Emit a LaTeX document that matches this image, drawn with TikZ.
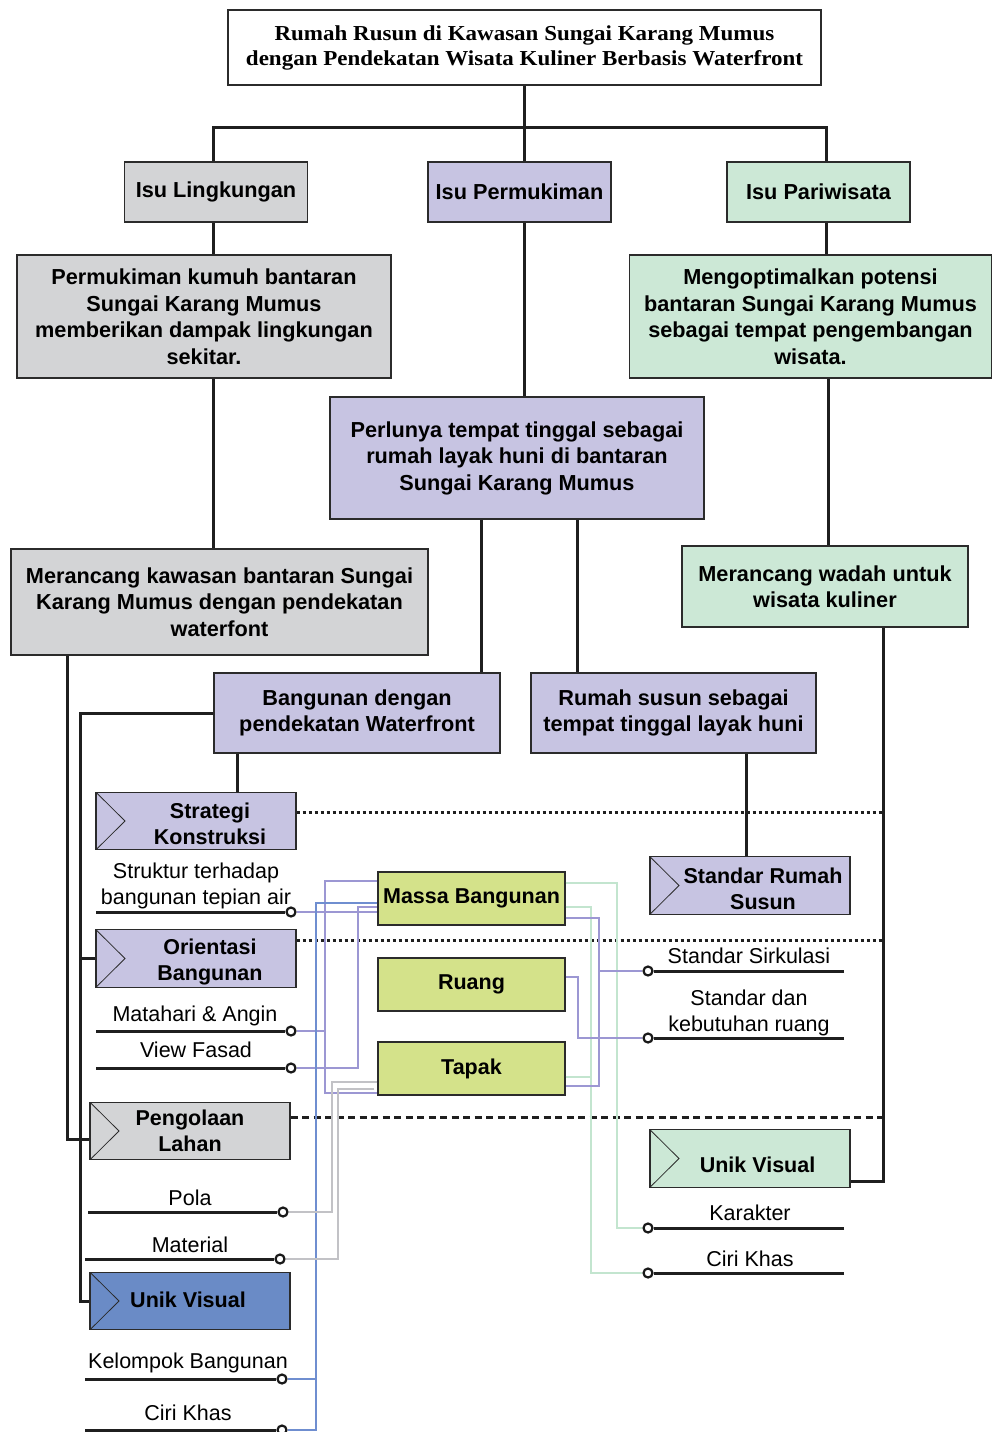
\documentclass[tikz,border=0pt]{standalone}
\usepackage{fontspec}
\setmainfont{Liberation Sans}
\newfontfamily\titlefont[FakeStretch=1.08]{Liberation Serif}
\usepackage{tikz}
\definecolor{grayfill}{HTML}{D3D4D6}
\definecolor{lavfill}{HTML}{C7C4E2}
\definecolor{mintfill}{HTML}{CCE8D6}
\definecolor{limefill}{HTML}{D4E28A}
\definecolor{bluefill}{HTML}{6A8BC6}
\definecolor{edge}{HTML}{2B2B2B}
\definecolor{lavwire}{HTML}{9C97D3}
\definecolor{bluewire}{HTML}{6F8ED0}
\definecolor{graywire}{HTML}{C2C2C6}
\definecolor{mintwire}{HTML}{C3E5CF}
\tikzstyle{box} = [draw=edge, line width=1.3pt, inner sep=0pt, align=center, font={\bfseries\fontsize{21.7}{26.5}\selectfont}]
\tikzstyle{isu} = [box, minimum width=183pt, minimum height=60pt]
\tikzstyle{tab} = [box, minimum width=200pt, minimum height=57.5pt, path picture={\draw[edge, line width=0.8pt] (path picture bounding box.north west) -- ([xshift=29pt]path picture bounding box.west) -- (path picture bounding box.south west);}]
\tikzstyle{tabtext} = [inner sep=0pt, align=center, font={\bfseries\fontsize{21.5}{26}\selectfont}]
\tikzstyle{mass} = [box, fill=limefill, minimum width=187pt, minimum height=53pt, font={\bfseries\fontsize{21.5}{26}\selectfont}]
\tikzstyle{lbl} = [inner sep=0pt, align=center, font={\fontsize{21.5}{26}\selectfont}]
\tikzstyle{dot} = [circle, draw=black!90, fill=white, line width=2.2pt, inner sep=0pt, minimum size=9pt]
\tikzstyle{link} = [draw=black!88, line width=3pt]
\tikzstyle{wire} = [line width=1.8pt]
\tikzstyle{dots} = [draw=black!88, line width=3pt, dash pattern=on 3pt off 3pt]
\tikzstyle{dashes} = [draw=black!88, line width=3pt, dash pattern=on 7pt off 4.5pt]

\begin{document}
\begin{tikzpicture}[x=1pt, y=-1pt]
  \useasboundingbox (0,0) rectangle (993,1432);
  % judul dan isu
  \node[box, fill=white, font={\titlefont\bfseries\fontsize{21.3}{25}\selectfont}, minimum width=593pt, minimum height=75pt] (title) at (524.5,47.5) {Rumah Rusun di Kawasan Sungai Karang Mumus\\dengan Pendekatan Wisata Kuliner Berbasis Waterfront};
  \node[isu, fill=grayfill] (isuL) at (216,192) {Isu Lingkungan};
  \node[isu, fill=lavfill] (isuP) at (519.5,192) {Isu Permukiman};
  \node[isu, fill=mintfill] (isuW) at (818.5,192) {Isu Pariwisata};
  \node[box, fill=grayfill, minimum width=374pt, minimum height=123pt] (kumuh) at (204,316.5) {Permukiman kumuh bantaran\\Sungai Karang Mumus\\memberikan dampak lingkungan\\sekitar.};
  \node[box, fill=mintfill, minimum width=362pt, minimum height=123pt] (opt) at (810.5,316.5) {Mengoptimalkan potensi\\bantaran Sungai Karang Mumus\\sebagai tempat pengembangan\\wisata.};
  \node[box, fill=lavfill, minimum width=374pt, minimum height=122pt] (perlu) at (517,458) {Perlunya tempat tinggal sebagai\\rumah layak huni di bantaran\\Sungai Karang Mumus};
  \node[box, fill=grayfill, minimum width=417pt, minimum height=106pt] (kawasan) at (219.5,602) {Merancang kawasan bantaran Sungai\\Karang Mumus dengan pendekatan\\waterfont};
  \node[box, fill=mintfill, minimum width=286pt, minimum height=81pt] (wadah) at (825,586.5) {Merancang wadah untuk\\wisata kuliner};
  \node[box, fill=lavfill, minimum width=286pt, minimum height=80pt] (bang) at (357,713) {Bangunan dengan\\pendekatan Waterfront};
  \node[box, fill=lavfill, minimum width=285pt, minimum height=80pt] (rusun) at (673.5,713) {Rumah susun sebagai\\tempat tinggal layak huni};

  % kriteria
  \node[tab, fill=lavfill] (strat) at (196,821) {};
  \node[tabtext] (stratT) at (210,824) {Strategi\\Konstruksi};
  \node[tab, fill=lavfill] (orient) at (196,958.5) {};
  \node[tabtext] (orientT) at (210,961.5) {Orientasi\\Bangunan};
  \node[tab, fill=grayfill] (olah) at (190,1131) {};
  \node[tabtext] (olahT) at (190,1130.5) {Pengolaan\\Lahan};
  \node[tab, fill=bluefill] (unik1) at (190,1301) {};
  \node[tabtext, anchor=base] (unik1T) at (188,1307) {Unik Visual};
  \node[tab, fill=lavfill] (stdr) at (750,885.5) {};
  \node[tabtext] (stdrT) at (763,889) {Standar Rumah\\Susun};
  \node[tab, fill=mintfill] (unik2) at (750,1158.5) {};
  \node[tabtext, anchor=base] (unik2T) at (757.5,1172) {Unik Visual};

  \node[mass] (massa) at (471.5,898.5) {Massa Bangunan};
  \node[mass] (ruang) at (471.5,984.5) {Ruang};
  \node[mass] (tapak) at (471.5,1068.5) {Tapak};

  % sub kriteria
  \node[lbl] (struk) at (196,885.5) {Struktur terhadap\\bangunan tepian air};
  \node[lbl, anchor=base] (mata) at (195,1021) {Matahari \& Angin};
  \node[lbl, anchor=base] (view) at (196,1057) {View Fasad};
  \node[lbl, anchor=base] (pola) at (190,1205) {Pola};
  \node[lbl, anchor=base] (mat) at (190,1252) {Material};
  \node[lbl, anchor=base] (kel) at (188,1368) {Kelompok Bangunan};
  \node[lbl, anchor=base] (ciri1) at (188,1420) {Ciri Khas};
  \node[lbl, anchor=base] (sirk) at (749,963) {Standar Sirkulasi};
  \node[lbl] (kebut) at (749,1013) {Standar dan\\kebutuhan ruang};
  \node[lbl, anchor=base] (kar) at (750,1220) {Karakter};
  \node[lbl, anchor=base] (ciri2) at (750,1266) {Ciri Khas};

  \node[dot] (d1) at (291,912) {};
  \node[dot] (d3) at (291,1031) {};
  \node[dot] (d4) at (291,1068) {};
  \node[dot] (d5) at (283,1212) {};
  \node[dot] (d6) at (280,1259) {};
  \node[dot] (d7) at (282,1379) {};
  \node[dot] (d8) at (282,1430) {};
  \node[dot] (d11) at (648,971) {};
  \node[dot] (d12) at (648,1038) {};
  \node[dot] (d9) at (648,1228) {};
  \node[dot] (d10) at (648,1273) {};
  \coordinate (u1) at (96,912);
  \coordinate (u3) at (96,1031);
  \coordinate (u4) at (96,1068);
  \coordinate (u5) at (88,1212);
  \coordinate (u6) at (85,1259);
  \coordinate (u7) at (85,1379);
  \coordinate (u8) at (85,1430);
  \coordinate (u11) at (844,971);
  \coordinate (u12) at (844,1038);
  \coordinate (u9) at (844,1228);
  \coordinate (u10) at (844,1273);
  \draw[link] (u1) -- (d1);
  \draw[link] (u3) -- (d3);
  \draw[link] (u4) -- (d4);
  \draw[link] (u5) -- (d5);
  \draw[link] (u6) -- (d6);
  \draw[link] (u7) -- (d7);
  \draw[link] (u8) -- (d8);
  \draw[link] (u11) -- (d11);
  \draw[link] (u12) -- (d12);
  \draw[link] (u9) -- (d9);
  \draw[link] (u10) -- (d10);

  % garis hubung
  \coordinate (fork) at (524.5,127);
  \draw[link] (title.south) -- (title.south |- isuP.north);
  \draw[link] ([xshift=-3pt]isuL.north) |- (fork) -| ([xshift=7.5pt]isuW.north);
  \draw[link] ([xshift=-3pt]isuL.south) -- ([xshift=-3pt]isuL.south |- kumuh.north);
  \draw[link] ([xshift=9pt]kumuh.south) -- ([xshift=9pt]kumuh.south |- kawasan.north);
  \draw[link] ([xshift=7.5pt]isuW.south) -- ([xshift=7.5pt]isuW.south |- opt.north);
  \draw[link] ([xshift=17.5pt]opt.south) -- ([xshift=17.5pt]opt.south |- wadah.north);
  \draw[link] (isuP.south -| title.south) -- (perlu.north -| title.south);
  \draw[link] ([xshift=-36pt]perlu.south) -- ([xshift=-36pt]perlu.south |- bang.north);
  \draw[link] ([xshift=60pt]perlu.south) -- ([xshift=60pt]perlu.south |- rusun.north);
  \draw[link] ([xshift=-4pt]stdr.north) -- ([xshift=-4pt]stdr.north |- rusun.south);
  \draw[link] ([xshift=-120pt]bang.south) -- ([xshift=-120pt]bang.south |- strat.north);
  \draw[link] ([xshift=-152.5pt]kawasan.south) |- ([yshift=-8pt]olah.west);
  \draw[link] (bang.west) -| ([xshift=-9pt]unik1.west) -- (unik1.west);
  \draw[link] (orient.west) -- ++(-15,0);
  \draw[link] ([xshift=58pt]wadah.south) |- ([yshift=-22.5pt]unik2.east);
  \draw[dots] ([yshift=9pt]strat.east) -- ++(587,0);
  \draw[dots] ([yshift=18.5pt]orient.east) -- ++(587,0);
  \draw[dashes] ([yshift=14pt]olah.east) -- ++(593,0);

  % garis warna
  \draw[wire, lavwire] (d1) -- (massa.west |- d1);
  \draw[wire, lavwire] ([yshift=-10pt]massa.north west) -| ([xshift=-52pt,yshift=-24.5pt]tapak.west) -- ([yshift=-24.5pt]tapak.west);
  \draw[wire, lavwire] (d3) -- ++(35,0);
  \draw[wire, lavwire] (d4) -| ([xshift=-19pt,yshift=-8.5pt]massa.west) -- ([yshift=-8.5pt]massa.west);
  \draw[wire, bluewire] ([yshift=-4.5pt]massa.west) -| ([xshift=34pt]d8.center) -- (d8);
  \draw[wire, bluewire] (d7) -- ++(34,0);
  \draw[wire, graywire] ([yshift=-13.5pt]tapak.west) -| ([xshift=49pt]d5.center) -- (d5);
  \draw[wire, graywire] ([xshift=-3pt,yshift=-20.5pt]tapak.west) -| ([xshift=58pt]d6.center) -- (d6);
  \draw[wire, mintwire] ([yshift=-12pt]massa.north east) -| ([xshift=-31pt]d9.center) -- (d9);
  \draw[wire, mintwire] ([yshift=-8.5pt]massa.east) -| ([xshift=-57pt]d10.center) -- (d10);
  \draw[wire, mintwire] ([yshift=-8.5pt]tapak.east) -- ++(26,0);
  \draw[wire, lavwire] ([yshift=-19.5pt]massa.east) -| ([xshift=33pt,yshift=-17.5pt]tapak.east) -- ([yshift=-17.5pt]tapak.east);
  \draw[wire, lavwire] (d11) -- ++(-50,0);
  \draw[wire, lavwire] ([yshift=7.5pt]ruang.east) -| ([xshift=-70pt]d12.center) -- (d12);
\end{tikzpicture}
\end{document}
